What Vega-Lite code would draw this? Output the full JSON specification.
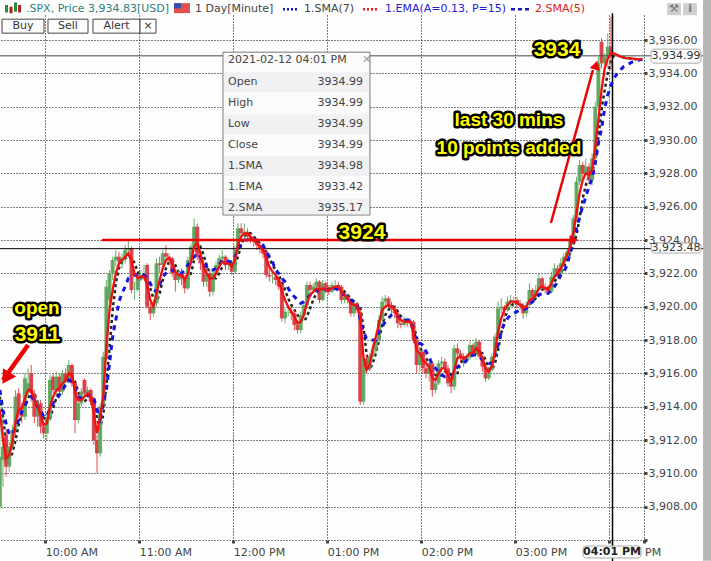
{
"$schema":"https://vega.github.io/schema/vega-lite/v6.json",
"width":644,"height":525,
"autosize":{"type":"none"},
"padding":{"left":0,"top":15,"right":67,"bottom":21},
"background":"#fefefe",
"config":{"view":{"stroke":null},"font":"DejaVu Sans","text":{"font":"DejaVu Sans"}},
"datasets":{
"candles":[
{"t":"2021-02-12T09:31","o":3908.0,"h":3915.0,"l":3907.8,"c":3911.0,"r":3913.8,"k":3914.6,"b":3915.0},
{"t":"2021-02-12T09:33","o":3910.8,"h":3913.4,"l":3909.2,"c":3911.6,"r":3912.0,"k":3913.4,"b":3913.8},
{"t":"2021-02-12T09:35","o":3912.3,"h":3912.6,"l":3909.8,"c":3910.4,"r":3910.9,"k":3911.8,"b":3913.0},
{"t":"2021-02-12T09:37","o":3910.4,"h":3911.9,"l":3910.1,"c":3911.6,"r":3911.1,"k":3910.9,"b":3912.3},
{"t":"2021-02-12T09:39","o":3911.6,"h":3912.9,"l":3911.4,"c":3912.6,"r":3911.9,"k":3911.2,"b":3912.4},
{"t":"2021-02-12T09:41","o":3912.6,"h":3915.0,"l":3912.3,"c":3914.6,"r":3913.1,"k":3912.0,"b":3912.7},
{"t":"2021-02-12T09:43","o":3914.8,"h":3915.1,"l":3913.3,"c":3913.6,"r":3913.8,"k":3912.9,"b":3913.2},
{"t":"2021-02-12T09:45","o":3913.6,"h":3914.2,"l":3913.0,"c":3913.4,"r":3913.9,"k":3913.5,"b":3913.7},
{"t":"2021-02-12T09:47","o":3913.4,"h":3916.0,"l":3913.2,"c":3915.7,"r":3914.5,"k":3914.0,"b":3914.1},
{"t":"2021-02-12T09:49","o":3915.0,"h":3916.3,"l":3914.6,"c":3915.4,"r":3915.0,"k":3914.5,"b":3914.4},
{"t":"2021-02-12T09:51","o":3916.0,"h":3916.5,"l":3914.3,"c":3914.8,"r":3915.0,"k":3914.9,"b":3914.6},
{"t":"2021-02-12T09:53","o":3914.8,"h":3915.0,"l":3913.0,"c":3913.4,"r":3914.4,"k":3914.8,"b":3914.4},
{"t":"2021-02-12T09:55","o":3913.4,"h":3914.4,"l":3912.8,"c":3914.2,"r":3914.0,"k":3914.3,"b":3914.0},
{"t":"2021-02-12T09:57","o":3914.2,"h":3914.4,"l":3912.4,"c":3912.8,"r":3913.5,"k":3913.9,"b":3913.7},
{"t":"2021-02-12T09:59","o":3912.8,"h":3913.1,"l":3912.1,"c":3912.4,"r":3912.9,"k":3913.4,"b":3913.4},
{"t":"2021-02-12T10:01","o":3912.4,"h":3913.6,"l":3912.0,"c":3913.3,"r":3913.0,"k":3913.0,"b":3913.4},
{"t":"2021-02-12T10:03","o":3913.3,"h":3915.9,"l":3913.1,"c":3915.6,"r":3914.0,"k":3913.3,"b":3913.9},
{"t":"2021-02-12T10:05","o":3915.8,"h":3916.0,"l":3914.8,"c":3915.0,"r":3914.6,"k":3913.9,"b":3914.2},
{"t":"2021-02-12T10:07","o":3915.0,"h":3916.1,"l":3914.6,"c":3915.8,"r":3915.0,"k":3914.5,"b":3914.4},
{"t":"2021-02-12T10:09","o":3915.8,"h":3916.0,"l":3914.6,"c":3914.9,"r":3915.1,"k":3915.0,"b":3914.7},
{"t":"2021-02-12T10:11","o":3914.9,"h":3916.2,"l":3914.7,"c":3916.0,"r":3915.4,"k":3915.2,"b":3915.0},
{"t":"2021-02-12T10:13","o":3916.0,"h":3916.3,"l":3915.4,"c":3915.6,"r":3915.6,"k":3915.4,"b":3915.3},
{"t":"2021-02-12T10:15","o":3915.6,"h":3916.8,"l":3915.4,"c":3916.5,"r":3916.0,"k":3915.6,"b":3915.6},
{"t":"2021-02-12T10:17","o":3916.5,"h":3916.6,"l":3915.2,"c":3915.4,"r":3915.9,"k":3915.8,"b":3915.5},
{"t":"2021-02-12T10:19","o":3915.4,"h":3915.6,"l":3912.4,"c":3913.2,"r":3914.9,"k":3915.5,"b":3915.1},
{"t":"2021-02-12T10:21","o":3913.2,"h":3914.4,"l":3913.0,"c":3914.2,"r":3914.4,"k":3914.9,"b":3914.6},
{"t":"2021-02-12T10:23","o":3914.2,"h":3915.1,"l":3914.0,"c":3914.9,"r":3914.4,"k":3914.4,"b":3914.5},
{"t":"2021-02-12T10:25","o":3915.6,"h":3915.7,"l":3914.6,"c":3914.8,"r":3914.6,"k":3914.3,"b":3914.5},
{"t":"2021-02-12T10:27","o":3914.8,"h":3915.2,"l":3914.6,"c":3915.0,"r":3914.8,"k":3914.5,"b":3914.7},
{"t":"2021-02-12T10:29","o":3915.0,"h":3915.1,"l":3914.1,"c":3914.3,"r":3914.6,"k":3914.7,"b":3914.7},
{"t":"2021-02-12T10:31","o":3914.5,"h":3914.6,"l":3911.7,"c":3912.0,"r":3913.6,"k":3914.3,"b":3914.5},
{"t":"2021-02-12T10:33","o":3912.0,"h":3912.3,"l":3910.0,"c":3911.2,"r":3912.4,"k":3913.3,"b":3913.8},
{"t":"2021-02-12T10:35","o":3911.2,"h":3914.2,"l":3911.0,"c":3914.0,"r":3913.4,"k":3912.7,"b":3913.3},
{"t":"2021-02-12T10:37","o":3914.0,"h":3917.3,"l":3913.8,"c":3917.0,"r":3914.6,"k":3913.5,"b":3914.2},
{"t":"2021-02-12T10:39","o":3917.0,"h":3921.6,"l":3916.8,"c":3921.2,"r":3917.6,"k":3915.3,"b":3915.0},
{"t":"2021-02-12T10:41","o":3920.4,"h":3922.2,"l":3920.2,"c":3922.0,"r":3919.8,"k":3917.6,"b":3916.6},
{"t":"2021-02-12T10:43","o":3922.0,"h":3923.0,"l":3921.6,"c":3922.8,"r":3921.0,"k":3919.8,"b":3918.2},
{"t":"2021-02-12T10:45","o":3922.8,"h":3923.4,"l":3922.4,"c":3923.0,"r":3922.0,"k":3921.4,"b":3919.2},
{"t":"2021-02-12T10:47","o":3923.0,"h":3923.3,"l":3922.3,"c":3922.7,"r":3922.6,"k":3922.3,"b":3920.3},
{"t":"2021-02-12T10:49","o":3922.7,"h":3923.2,"l":3922.3,"c":3922.9,"r":3922.8,"k":3922.7,"b":3920.8},
{"t":"2021-02-12T10:51","o":3922.9,"h":3923.7,"l":3922.6,"c":3923.4,"r":3923.0,"k":3922.9,"b":3921.2},
{"t":"2021-02-12T10:53","o":3923.4,"h":3924.0,"l":3923.0,"c":3923.5,"r":3923.2,"k":3923.0,"b":3921.7},
{"t":"2021-02-12T10:55","o":3923.5,"h":3923.6,"l":3920.8,"c":3921.0,"r":3922.7,"k":3923.0,"b":3921.8},
{"t":"2021-02-12T10:57","o":3921.0,"h":3921.5,"l":3920.4,"c":3921.0,"r":3922.0,"k":3922.6,"b":3921.9},
{"t":"2021-02-12T10:59","o":3921.0,"h":3921.9,"l":3920.9,"c":3921.7,"r":3921.7,"k":3922.1,"b":3921.9},
{"t":"2021-02-12T11:01","o":3921.7,"h":3922.2,"l":3921.5,"c":3921.9,"r":3921.8,"k":3921.7,"b":3922.0},
{"t":"2021-02-12T11:03","o":3921.9,"h":3922.5,"l":3921.6,"c":3922.0,"r":3921.8,"k":3921.7,"b":3921.9},
{"t":"2021-02-12T11:05","o":3922.5,"h":3922.6,"l":3919.9,"c":3920.0,"r":3921.3,"k":3921.7,"b":3921.7},
{"t":"2021-02-12T11:07","o":3920.0,"h":3920.2,"l":3919.2,"c":3919.6,"r":3920.4,"k":3921.1,"b":3921.4},
{"t":"2021-02-12T11:09","o":3919.6,"h":3920.4,"l":3919.4,"c":3920.2,"r":3920.0,"k":3920.5,"b":3921.0},
{"t":"2021-02-12T11:11","o":3920.2,"h":3922.9,"l":3920.0,"c":3922.6,"r":3920.8,"k":3920.3,"b":3920.9},
{"t":"2021-02-12T11:13","o":3922.6,"h":3923.0,"l":3922.0,"c":3922.5,"r":3921.6,"k":3920.8,"b":3921.3},
{"t":"2021-02-12T11:15","o":3922.5,"h":3923.4,"l":3922.2,"c":3923.2,"r":3922.3,"k":3921.6,"b":3921.8},
{"t":"2021-02-12T11:17","o":3923.2,"h":3923.7,"l":3922.7,"c":3923.0,"r":3922.8,"k":3922.3,"b":3922.0},
{"t":"2021-02-12T11:19","o":3923.0,"h":3923.2,"l":3922.5,"c":3922.9,"r":3922.9,"k":3922.7,"b":3922.2},
{"t":"2021-02-12T11:21","o":3922.9,"h":3923.0,"l":3921.8,"c":3922.0,"r":3922.6,"k":3922.8,"b":3922.2},
{"t":"2021-02-12T11:23","o":3922.0,"h":3922.2,"l":3920.9,"c":3921.6,"r":3922.1,"k":3922.5,"b":3922.1},
{"t":"2021-02-12T11:25","o":3921.6,"h":3922.2,"l":3921.4,"c":3922.0,"r":3921.9,"k":3922.1,"b":3922.0},
{"t":"2021-02-12T11:27","o":3922.0,"h":3922.3,"l":3921.3,"c":3921.7,"r":3921.9,"k":3921.9,"b":3922.0},
{"t":"2021-02-12T11:29","o":3921.7,"h":3921.9,"l":3920.8,"c":3921.1,"r":3921.6,"k":3921.8,"b":3922.2},
{"t":"2021-02-12T11:31","o":3921.1,"h":3923.0,"l":3921.0,"c":3922.8,"r":3922.0,"k":3921.7,"b":3922.5},
{"t":"2021-02-12T11:33","o":3922.8,"h":3923.8,"l":3922.6,"c":3923.6,"r":3922.7,"k":3922.0,"b":3922.8},
{"t":"2021-02-12T11:35","o":3923.6,"h":3925.3,"l":3923.4,"c":3924.8,"r":3923.6,"k":3922.8,"b":3923.0},
{"t":"2021-02-12T11:37","o":3924.8,"h":3925.0,"l":3922.8,"c":3923.0,"r":3923.8,"k":3923.5,"b":3923.2},
{"t":"2021-02-12T11:39","o":3923.0,"h":3923.3,"l":3922.2,"c":3922.6,"r":3923.2,"k":3923.6,"b":3923.0},
{"t":"2021-02-12T11:41","o":3922.6,"h":3922.8,"l":3921.2,"c":3921.5,"r":3922.4,"k":3923.1,"b":3922.7},
{"t":"2021-02-12T11:43","o":3921.5,"h":3922.3,"l":3921.2,"c":3922.0,"r":3922.0,"k":3922.5,"b":3922.4},
{"t":"2021-02-12T11:45","o":3922.0,"h":3922.2,"l":3920.6,"c":3920.9,"r":3921.7,"k":3922.0,"b":3922.2},
{"t":"2021-02-12T11:47","o":3920.9,"h":3922.3,"l":3920.7,"c":3922.0,"r":3921.7,"k":3921.7,"b":3922.2},
{"t":"2021-02-12T11:49","o":3922.0,"h":3922.7,"l":3921.8,"c":3922.5,"r":3922.0,"k":3921.7,"b":3922.3},
{"t":"2021-02-12T11:51","o":3922.5,"h":3923.1,"l":3922.3,"c":3922.9,"r":3922.4,"k":3922.0,"b":3922.5},
{"t":"2021-02-12T11:53","o":3922.9,"h":3923.4,"l":3922.6,"c":3923.0,"r":3922.7,"k":3922.4,"b":3922.8},
{"t":"2021-02-12T11:55","o":3923.0,"h":3923.1,"l":3922.2,"c":3922.5,"r":3922.6,"k":3922.6,"b":3922.8},
{"t":"2021-02-12T11:57","o":3922.5,"h":3922.9,"l":3922.2,"c":3922.6,"r":3922.6,"k":3922.6,"b":3922.7},
{"t":"2021-02-12T11:59","o":3922.6,"h":3922.8,"l":3921.9,"c":3922.1,"r":3922.4,"k":3922.6,"b":3922.7},
{"t":"2021-02-12T12:01","o":3922.1,"h":3923.7,"l":3922.0,"c":3923.4,"r":3922.8,"k":3922.5,"b":3923.0},
{"t":"2021-02-12T12:03","o":3923.4,"h":3925.0,"l":3923.2,"c":3924.7,"r":3923.7,"k":3923.0,"b":3923.4},
{"t":"2021-02-12T12:05","o":3924.7,"h":3925.0,"l":3924.1,"c":3924.4,"r":3924.2,"k":3923.7,"b":3923.8},
{"t":"2021-02-12T12:07","o":3924.4,"h":3925.0,"l":3924.1,"c":3924.5,"r":3924.4,"k":3924.2,"b":3924.0},
{"t":"2021-02-12T12:09","o":3924.5,"h":3924.7,"l":3924.0,"c":3924.2,"r":3924.4,"k":3924.4,"b":3924.0},
{"t":"2021-02-12T12:11","o":3924.2,"h":3924.4,"l":3923.8,"c":3924.0,"r":3924.2,"k":3924.4,"b":3924.0},
{"t":"2021-02-12T12:13","o":3924.0,"h":3924.2,"l":3923.6,"c":3923.9,"r":3924.0,"k":3924.2,"b":3924.0},
{"t":"2021-02-12T12:15","o":3923.9,"h":3924.0,"l":3923.4,"c":3923.7,"r":3923.8,"k":3924.0,"b":3924.0},
{"t":"2021-02-12T12:17","o":3923.7,"h":3923.9,"l":3923.2,"c":3923.5,"r":3923.6,"k":3923.8,"b":3923.8},
{"t":"2021-02-12T12:19","o":3923.5,"h":3923.7,"l":3922.9,"c":3923.2,"r":3923.4,"k":3923.6,"b":3923.7},
{"t":"2021-02-12T12:21","o":3923.2,"h":3923.4,"l":3921.7,"c":3921.9,"r":3922.9,"k":3923.3,"b":3923.3},
{"t":"2021-02-12T12:23","o":3921.9,"h":3922.4,"l":3921.5,"c":3921.8,"r":3922.4,"k":3922.9,"b":3923.0},
{"t":"2021-02-12T12:25","o":3921.8,"h":3922.2,"l":3921.4,"c":3921.8,"r":3922.1,"k":3922.5,"b":3922.7},
{"t":"2021-02-12T12:27","o":3921.8,"h":3922.0,"l":3921.3,"c":3921.6,"r":3921.9,"k":3922.2,"b":3922.2},
{"t":"2021-02-12T12:29","o":3921.6,"h":3921.8,"l":3921.0,"c":3921.2,"r":3921.6,"k":3921.9,"b":3922.0},
{"t":"2021-02-12T12:31","o":3921.3,"h":3921.5,"l":3919.1,"c":3919.3,"r":3920.9,"k":3921.5,"b":3921.7},
{"t":"2021-02-12T12:33","o":3919.3,"h":3919.9,"l":3919.0,"c":3919.7,"r":3920.4,"k":3921.0,"b":3921.5},
{"t":"2021-02-12T12:35","o":3919.7,"h":3920.0,"l":3919.4,"c":3919.7,"r":3920.0,"k":3920.5,"b":3921.1},
{"t":"2021-02-12T12:37","o":3919.7,"h":3920.0,"l":3919.2,"c":3919.6,"r":3919.7,"k":3920.1,"b":3920.8},
{"t":"2021-02-12T12:39","o":3919.6,"h":3919.8,"l":3918.6,"c":3918.9,"r":3919.4,"k":3919.8,"b":3920.6},
{"t":"2021-02-12T12:41","o":3918.9,"h":3919.2,"l":3918.4,"c":3918.6,"r":3919.0,"k":3919.5,"b":3920.4},
{"t":"2021-02-12T12:43","o":3918.6,"h":3919.7,"l":3918.4,"c":3919.5,"r":3919.1,"k":3919.2,"b":3920.2},
{"t":"2021-02-12T12:45","o":3919.5,"h":3920.3,"l":3919.3,"c":3920.1,"r":3919.5,"k":3919.1,"b":3920.3},
{"t":"2021-02-12T12:47","o":3920.1,"h":3921.5,"l":3920.0,"c":3921.3,"r":3920.2,"k":3919.4,"b":3920.5},
{"t":"2021-02-12T12:49","o":3921.3,"h":3921.5,"l":3920.7,"c":3921.0,"r":3920.7,"k":3919.9,"b":3920.7},
{"t":"2021-02-12T12:51","o":3921.0,"h":3921.4,"l":3920.8,"c":3921.2,"r":3920.9,"k":3920.4,"b":3920.9},
{"t":"2021-02-12T12:53","o":3921.2,"h":3921.7,"l":3921.0,"c":3921.5,"r":3921.1,"k":3920.8,"b":3921.0},
{"t":"2021-02-12T12:55","o":3921.5,"h":3921.6,"l":3920.2,"c":3920.4,"r":3921.0,"k":3921.0,"b":3921.0},
{"t":"2021-02-12T12:57","o":3920.4,"h":3921.6,"l":3920.3,"c":3921.4,"r":3921.1,"k":3921.0,"b":3921.0},
{"t":"2021-02-12T12:59","o":3921.4,"h":3921.5,"l":3920.8,"c":3921.0,"r":3921.0,"k":3921.0,"b":3921.0},
{"t":"2021-02-12T13:01","o":3921.0,"h":3921.3,"l":3920.7,"c":3920.9,"r":3921.0,"k":3921.1,"b":3921.0},
{"t":"2021-02-12T13:03","o":3920.9,"h":3921.5,"l":3920.8,"c":3921.3,"r":3921.1,"k":3921.0,"b":3921.1},
{"t":"2021-02-12T13:05","o":3921.3,"h":3921.6,"l":3921.1,"c":3921.3,"r":3921.2,"k":3921.1,"b":3921.1},
{"t":"2021-02-12T13:07","o":3921.3,"h":3921.5,"l":3921.0,"c":3921.2,"r":3921.2,"k":3921.1,"b":3921.0},
{"t":"2021-02-12T13:09","o":3921.2,"h":3921.3,"l":3920.2,"c":3920.4,"r":3920.9,"k":3921.1,"b":3920.8},
{"t":"2021-02-12T13:11","o":3920.4,"h":3920.8,"l":3920.2,"c":3920.6,"r":3920.7,"k":3920.9,"b":3920.7},
{"t":"2021-02-12T13:13","o":3920.6,"h":3920.8,"l":3920.2,"c":3920.4,"r":3920.5,"k":3920.7,"b":3920.6},
{"t":"2021-02-12T13:15","o":3920.4,"h":3920.5,"l":3919.4,"c":3919.6,"r":3920.2,"k":3920.5,"b":3920.4},
{"t":"2021-02-12T13:17","o":3919.6,"h":3920.4,"l":3919.4,"c":3920.2,"r":3920.1,"k":3920.3,"b":3920.3},
{"t":"2021-02-12T13:19","o":3920.2,"h":3920.3,"l":3919.6,"c":3919.8,"r":3920.0,"k":3920.1,"b":3920.2},
{"t":"2021-02-12T13:21","o":3919.7,"h":3919.9,"l":3914.1,"c":3914.3,"r":3919.4,"k":3920.0,"b":3919.2},
{"t":"2021-02-12T13:23","o":3914.3,"h":3917.2,"l":3914.1,"c":3916.9,"r":3917.0,"k":3918.8,"b":3918.5},
{"t":"2021-02-12T13:25","o":3916.9,"h":3917.1,"l":3916.0,"c":3916.3,"r":3916.2,"k":3917.2,"b":3918.1},
{"t":"2021-02-12T13:27","o":3916.3,"h":3917.2,"l":3916.1,"c":3917.0,"r":3916.5,"k":3916.2,"b":3918.0},
{"t":"2021-02-12T13:29","o":3917.0,"h":3917.6,"l":3916.8,"c":3917.4,"r":3917.5,"k":3916.6,"b":3918.0},
{"t":"2021-02-12T13:31","o":3917.4,"h":3918.3,"l":3917.2,"c":3918.0,"r":3918.2,"k":3917.2,"b":3918.0},
{"t":"2021-02-12T13:33","o":3918.0,"h":3919.5,"l":3917.8,"c":3919.2,"r":3919.0,"k":3918.0,"b":3918.5},
{"t":"2021-02-12T13:35","o":3919.2,"h":3920.6,"l":3919.0,"c":3920.3,"r":3919.8,"k":3918.9,"b":3918.8},
{"t":"2021-02-12T13:37","o":3920.3,"h":3920.7,"l":3919.9,"c":3920.5,"r":3920.0,"k":3919.5,"b":3919.1},
{"t":"2021-02-12T13:39","o":3920.5,"h":3920.6,"l":3919.9,"c":3920.1,"r":3920.1,"k":3919.8,"b":3919.3},
{"t":"2021-02-12T13:41","o":3920.1,"h":3920.3,"l":3919.6,"c":3919.9,"r":3920.0,"k":3920.0,"b":3919.5},
{"t":"2021-02-12T13:43","o":3919.9,"h":3920.0,"l":3919.3,"c":3919.6,"r":3919.8,"k":3920.0,"b":3919.6},
{"t":"2021-02-12T13:45","o":3919.6,"h":3919.7,"l":3918.7,"c":3919.0,"r":3919.4,"k":3919.7,"b":3919.4},
{"t":"2021-02-12T13:47","o":3919.0,"h":3919.3,"l":3918.7,"c":3918.9,"r":3919.2,"k":3919.4,"b":3919.3},
{"t":"2021-02-12T13:49","o":3918.9,"h":3919.4,"l":3918.8,"c":3919.2,"r":3919.1,"k":3919.2,"b":3919.2},
{"t":"2021-02-12T13:51","o":3919.2,"h":3919.3,"l":3918.8,"c":3919.0,"r":3919.1,"k":3919.1,"b":3919.2},
{"t":"2021-02-12T13:53","o":3919.0,"h":3919.3,"l":3918.8,"c":3919.1,"r":3919.1,"k":3919.1,"b":3919.2},
{"t":"2021-02-12T13:55","o":3919.1,"h":3919.2,"l":3917.8,"c":3918.0,"r":3918.4,"k":3918.9,"b":3918.5},
{"t":"2021-02-12T13:57","o":3918.0,"h":3918.1,"l":3916.0,"c":3916.5,"r":3917.4,"k":3918.2,"b":3918.0},
{"t":"2021-02-12T13:59","o":3916.5,"h":3917.6,"l":3916.1,"c":3917.3,"r":3917.2,"k":3917.6,"b":3917.8},
{"t":"2021-02-12T14:01","o":3917.3,"h":3917.4,"l":3916.0,"c":3916.3,"r":3916.8,"k":3917.2,"b":3917.7},
{"t":"2021-02-12T14:03","o":3916.3,"h":3916.9,"l":3915.7,"c":3916.0,"r":3916.6,"k":3916.9,"b":3917.3},
{"t":"2021-02-12T14:05","o":3916.0,"h":3916.8,"l":3915.5,"c":3916.6,"r":3916.4,"k":3916.6,"b":3917.0},
{"t":"2021-02-12T14:07","o":3916.6,"h":3916.7,"l":3914.6,"c":3915.0,"r":3915.7,"k":3916.2,"b":3916.5},
{"t":"2021-02-12T14:09","o":3915.0,"h":3915.7,"l":3914.8,"c":3915.4,"r":3915.6,"k":3915.9,"b":3916.3},
{"t":"2021-02-12T14:11","o":3915.4,"h":3916.8,"l":3915.3,"c":3916.6,"r":3916.0,"k":3915.8,"b":3916.1},
{"t":"2021-02-12T14:13","o":3916.6,"h":3917.0,"l":3916.0,"c":3916.7,"r":3916.3,"k":3915.9,"b":3915.9},
{"t":"2021-02-12T14:15","o":3916.7,"h":3916.9,"l":3916.0,"c":3916.3,"r":3916.3,"k":3916.1,"b":3915.8},
{"t":"2021-02-12T14:17","o":3916.3,"h":3916.5,"l":3915.2,"c":3915.4,"r":3915.9,"k":3916.1,"b":3915.8},
{"t":"2021-02-12T14:19","o":3915.4,"h":3915.7,"l":3914.8,"c":3915.2,"r":3915.5,"k":3915.9,"b":3915.8},
{"t":"2021-02-12T14:21","o":3915.2,"h":3917.7,"l":3915.0,"c":3917.5,"r":3916.2,"k":3915.7,"b":3916.1},
{"t":"2021-02-12T14:23","o":3917.5,"h":3917.8,"l":3916.9,"c":3917.2,"r":3916.9,"k":3916.0,"b":3916.4},
{"t":"2021-02-12T14:25","o":3917.2,"h":3917.4,"l":3916.7,"c":3917.0,"r":3917.0,"k":3916.6,"b":3916.5},
{"t":"2021-02-12T14:27","o":3917.0,"h":3917.2,"l":3916.4,"c":3916.8,"r":3916.9,"k":3916.9,"b":3916.6},
{"t":"2021-02-12T14:29","o":3916.8,"h":3917.2,"l":3916.6,"c":3917.0,"r":3917.0,"k":3917.0,"b":3916.8},
{"t":"2021-02-12T14:31","o":3917.0,"h":3917.9,"l":3916.8,"c":3917.7,"r":3917.2,"k":3917.0,"b":3917.0},
{"t":"2021-02-12T14:33","o":3917.7,"h":3917.8,"l":3917.0,"c":3917.2,"r":3917.2,"k":3917.1,"b":3917.1},
{"t":"2021-02-12T14:35","o":3917.2,"h":3918.1,"l":3917.1,"c":3917.9,"r":3917.5,"k":3917.2,"b":3917.1},
{"t":"2021-02-12T14:37","o":3917.9,"h":3918.0,"l":3916.9,"c":3917.0,"r":3917.3,"k":3917.3,"b":3917.0},
{"t":"2021-02-12T14:39","o":3917.0,"h":3917.1,"l":3916.1,"c":3916.4,"r":3916.9,"k":3917.2,"b":3916.8},
{"t":"2021-02-12T14:41","o":3916.4,"h":3916.6,"l":3915.5,"c":3915.7,"r":3916.3,"k":3916.8,"b":3916.7},
{"t":"2021-02-12T14:43","o":3915.7,"h":3916.4,"l":3915.6,"c":3916.2,"r":3916.1,"k":3916.3,"b":3916.6},
{"t":"2021-02-12T14:45","o":3916.2,"h":3917.2,"l":3916.1,"c":3917.0,"r":3916.4,"k":3916.2,"b":3916.6},
{"t":"2021-02-12T14:47","o":3917.0,"h":3918.4,"l":3916.9,"c":3918.2,"r":3917.3,"k":3916.6,"b":3917.1},
{"t":"2021-02-12T14:49","o":3918.2,"h":3920.3,"l":3918.0,"c":3919.9,"r":3918.5,"k":3917.4,"b":3917.7},
{"t":"2021-02-12T14:51","o":3919.9,"h":3920.5,"l":3919.6,"c":3920.0,"r":3919.3,"k":3918.4,"b":3918.5},
{"t":"2021-02-12T14:53","o":3920.0,"h":3920.1,"l":3919.4,"c":3919.8,"r":3919.8,"k":3919.2,"b":3919.0},
{"t":"2021-02-12T14:55","o":3919.8,"h":3920.6,"l":3919.7,"c":3920.3,"r":3920.1,"k":3919.8,"b":3919.3},
{"t":"2021-02-12T14:57","o":3920.3,"h":3920.7,"l":3920.0,"c":3920.4,"r":3920.3,"k":3920.0,"b":3919.5},
{"t":"2021-02-12T14:59","o":3920.4,"h":3920.6,"l":3920.0,"c":3920.4,"r":3920.3,"k":3920.2,"b":3919.6},
{"t":"2021-02-12T15:01","o":3920.4,"h":3920.6,"l":3919.9,"c":3920.2,"r":3920.2,"k":3920.3,"b":3919.7},
{"t":"2021-02-12T15:03","o":3920.2,"h":3920.4,"l":3919.8,"c":3920.1,"r":3920.1,"k":3920.2,"b":3919.8},
{"t":"2021-02-12T15:05","o":3920.1,"h":3920.2,"l":3919.3,"c":3919.6,"r":3919.9,"k":3920.0,"b":3919.8},
{"t":"2021-02-12T15:07","o":3919.6,"h":3920.3,"l":3919.4,"c":3920.1,"r":3920.0,"k":3919.9,"b":3919.9},
{"t":"2021-02-12T15:09","o":3920.1,"h":3921.4,"l":3920.0,"c":3921.0,"r":3920.4,"k":3920.1,"b":3920.2},
{"t":"2021-02-12T15:11","o":3921.0,"h":3921.1,"l":3920.4,"c":3920.6,"r":3920.5,"k":3920.3,"b":3920.3},
{"t":"2021-02-12T15:13","o":3920.6,"h":3921.3,"l":3920.5,"c":3921.0,"r":3920.7,"k":3920.5,"b":3920.5},
{"t":"2021-02-12T15:15","o":3921.0,"h":3922.0,"l":3920.9,"c":3921.7,"r":3921.1,"k":3920.7,"b":3920.7},
{"t":"2021-02-12T15:17","o":3921.7,"h":3921.8,"l":3921.0,"c":3921.2,"r":3921.2,"k":3921.0,"b":3920.8},
{"t":"2021-02-12T15:19","o":3921.2,"h":3921.4,"l":3920.8,"c":3921.0,"r":3921.1,"k":3921.1,"b":3920.8},
{"t":"2021-02-12T15:21","o":3921.0,"h":3921.3,"l":3920.7,"c":3920.9,"r":3921.0,"k":3921.1,"b":3920.8},
{"t":"2021-02-12T15:23","o":3920.9,"h":3922.1,"l":3920.8,"c":3921.8,"r":3921.4,"k":3921.1,"b":3921.0},
{"t":"2021-02-12T15:25","o":3921.8,"h":3922.6,"l":3921.6,"c":3922.3,"r":3921.8,"k":3921.5,"b":3921.2},
{"t":"2021-02-12T15:27","o":3922.3,"h":3922.5,"l":3921.7,"c":3922.0,"r":3922.0,"k":3921.8,"b":3921.5},
{"t":"2021-02-12T15:29","o":3922.0,"h":3922.9,"l":3921.8,"c":3922.6,"r":3922.3,"k":3922.0,"b":3921.9},
{"t":"2021-02-12T15:31","o":3922.6,"h":3923.2,"l":3922.4,"c":3923.0,"r":3922.7,"k":3922.4,"b":3922.1},
{"t":"2021-02-12T15:33","o":3923.0,"h":3923.5,"l":3922.8,"c":3923.3,"r":3923.1,"k":3922.8,"b":3922.5},
{"t":"2021-02-12T15:35","o":3923.3,"h":3924.2,"l":3923.1,"c":3924.0,"r":3923.6,"k":3923.2,"b":3923.2},
{"t":"2021-02-12T15:37","o":3924.0,"h":3925.5,"l":3923.8,"c":3925.3,"r":3924.4,"k":3923.7,"b":3923.9},
{"t":"2021-02-12T15:39","o":3925.3,"h":3927.8,"l":3925.1,"c":3927.5,"r":3925.6,"k":3924.3,"b":3924.7},
{"t":"2021-02-12T15:41","o":3927.5,"h":3928.8,"l":3927.3,"c":3928.5,"r":3926.8,"k":3925.3,"b":3925.4},
{"t":"2021-02-12T15:43","o":3928.5,"h":3928.7,"l":3927.7,"c":3928.0,"r":3927.6,"k":3926.5,"b":3926.0},
{"t":"2021-02-12T15:45","o":3928.0,"h":3928.9,"l":3927.9,"c":3928.4,"r":3928.0,"k":3927.3,"b":3926.6},
{"t":"2021-02-12T15:47","o":3928.4,"h":3928.6,"l":3927.4,"c":3927.6,"r":3927.9,"k":3927.8,"b":3927.2},
{"t":"2021-02-12T15:49","o":3927.6,"h":3929.2,"l":3927.3,"c":3928.9,"r":3928.2,"k":3928.0,"b":3927.7},
{"t":"2021-02-12T15:51","o":3928.9,"h":3932.3,"l":3928.7,"c":3932.0,"r":3929.6,"k":3928.8,"b":3928.6},
{"t":"2021-02-12T15:53","o":3932.0,"h":3935.0,"l":3931.8,"c":3934.6,"r":3931.2,"k":3930.2,"b":3929.8},
{"t":"2021-02-12T15:55","o":3935.9,"h":3936.1,"l":3934.3,"c":3934.6,"r":3933.0,"k":3931.8,"b":3930.7},
{"t":"2021-02-12T15:57","o":3934.6,"h":3935.2,"l":3933.8,"c":3935.0,"r":3934.3,"k":3933.0,"b":3931.9},
{"t":"2021-02-12T15:59","o":3935.0,"h":3936.4,"l":3934.3,"c":3935.6,"r":3934.9,"k":3934.0,"b":3932.7},
{"t":"2021-02-12T16:01","o":3935.6,"h":3937.4,"l":3934.2,"c":3935.0,"r":3935.2,"k":3934.7,"b":3933.3},
{"t":"2021-02-12T16:03","r":3935.2,"k":3935.1,"b":3933.7},
{"t":"2021-02-12T16:05","r":3935.1,"k":3935.1,"b":3934.0},
{"t":"2021-02-12T16:07","r":3935.0,"k":3935.0,"b":3934.2},
{"t":"2021-02-12T16:09","r":3934.95,"k":3934.95,"b":3934.4},
{"t":"2021-02-12T16:11","r":3934.9,"k":3934.9,"b":3934.5},
{"t":"2021-02-12T16:13","r":3934.9,"k":3934.9,"b":3934.6},
{"t":"2021-02-12T16:15","r":3934.88,"k":3934.88,"b":3934.7},
{"t":"2021-02-12T16:17","r":3934.85,"k":3934.85,"b":3934.75},
{"t":"2021-02-12T16:19","r":3934.85,"k":3934.85,"b":3934.8},
{"t":"2021-02-12T16:21","r":3934.85,"k":3934.85,"b":3934.85}
],
"boxes":[
{"kind":"strip","t":"2021-02-12T16:59:48","t2":"2021-02-12T17:05:00","p":3938.4,"p2":3904.75},
{"kind":"panel","t":"2021-02-12T11:53:24","t2":"2021-02-12T13:27:12","p":3935.27,"p2":3925.5},
{"kind":"band","t":"2021-02-12T11:54:00","t2":"2021-02-12T13:26:40","p":3934.07,"p2":3932.87},
{"kind":"band","t":"2021-02-12T11:54:00","t2":"2021-02-12T13:26:40","p":3931.55,"p2":3930.35},
{"kind":"band","t":"2021-02-12T11:54:00","t2":"2021-02-12T13:26:40","p":3929.03,"p2":3927.84},
{"kind":"band","t":"2021-02-12T11:54:00","t2":"2021-02-12T13:26:40","p":3926.52,"p2":3925.55},
{"kind":"button","t":"2021-02-12T09:32:23","t2":"2021-02-12T09:59:11","p":3937.25,"p2":3936.41},
{"kind":"button","t":"2021-02-12T10:01:44","t2":"2021-02-12T10:27:16","p":3937.25,"p2":3936.41},
{"kind":"button","t":"2021-02-12T10:30:27","t2":"2021-02-12T11:00:27","p":3937.25,"p2":3936.41},
{"kind":"button","t":"2021-02-12T11:00:27","t2":"2021-02-12T11:10:40","p":3937.25,"p2":3936.41},
{"kind":"tag","t":"2021-02-12T16:26:36","t2":"2021-02-12T16:58:30","p":3935.45,"p2":3934.61},
{"kind":"tag","t":"2021-02-12T16:26:36","t2":"2021-02-12T16:58:30","p":3923.82,"p2":3923.22},
{"kind":"tag","t":"2021-02-12T15:43:12","t2":"2021-02-12T16:20:12","p":3905.64,"p2":3904.92},
{"kind":"tool","t":"2021-02-12T16:36:48","t2":"2021-02-12T16:45:42","p":3938.21,"p2":3937.49},
{"kind":"tool","t":"2021-02-12T16:47:00","t2":"2021-02-12T16:55:54","p":3938.21,"p2":3937.49},
{"kind":"flagred","t":"2021-02-12T11:22:09","t2":"2021-02-12T11:32:22","p":3938.21,"p2":3937.61},
{"kind":"flagblue","t":"2021-02-12T11:22:09","t2":"2021-02-12T11:26:36","p":3938.21,"p2":3937.9},
{"kind":"icongreen","t":"2021-02-12T09:34:18","t2":"2021-02-12T09:36:12","p":3938.1,"p2":3937.65},
{"kind":"icongreen","t":"2021-02-12T09:40:00","t2":"2021-02-12T09:41:57","p":3938.25,"p2":3937.7},
{"kind":"iconred","t":"2021-02-12T09:37:10","t2":"2021-02-12T09:39:05","p":3938.0,"p2":3937.6},
{"kind":"iconred","t":"2021-02-12T09:42:40","t2":"2021-02-12T09:44:30","p":3938.1,"p2":3937.65}
],
"segments":[
{"kind":"cursor","t":"2021-02-12T16:02:00","t2":"2021-02-12T16:02:00","p":3937.6,"p2":3904.74}
],
"levels":[
{"kind":"close","t":"2021-02-12T09:31:06","t2":"2021-02-12T16:59:48","p":3935.05},
{"kind":"prev","t":"2021-02-12T09:31:06","t2":"2021-02-12T16:59:48","p":3923.48},
{"kind":"resist","t":"2021-02-12T10:36:12","t2":"2021-02-12T15:34:54","p":3924},
{"kind":"keyblue","t":"2021-02-12T12:31:42","t2":"2021-02-12T12:41:18","p":3937.85},
{"kind":"keyred","t":"2021-02-12T13:22:48","t2":"2021-02-12T13:32:18","p":3937.85},
{"kind":"keydash","t":"2021-02-12T14:57:12","t2":"2021-02-12T15:10:00","p":3937.85}
],
"arrows":[
{"kind":"up","t":"2021-02-12T15:22:42","p":3925.02},
{"kind":"up","t":"2021-02-12T15:49:30","p":3934.2},
{"kind":"open","t":"2021-02-12T09:49:00","p":3917.7},
{"kind":"open","t":"2021-02-12T09:33:00","p":3915.6}
],
"heads":[
{"kind":"up","t":"2021-02-12T15:51:30","p":3934.49},
{"kind":"right","t":"2021-02-12T15:37:24","p":3924},
{"kind":"open","t":"2021-02-12T09:34:54","p":3915.72}
],
"notes":[
{"kind":"word","t":"2021-02-12T09:54:42","p":3919.92,"label":"open"},
{"kind":"number","t":"2021-02-12T09:55:00","p":3918.3,"label":"3911"},
{"kind":"number","t":"2021-02-12T13:22:06","p":3924.42,"label":"3924"},
{"kind":"number","t":"2021-02-12T15:26:36","p":3935.39,"label":"3934"},
{"kind":"word","t":"2021-02-12T14:55:54","p":3931.19,"label":"last 30 mins"},
{"kind":"word","t":"2021-02-12T14:55:54","p":3929.51,"label":"10 points added"}
],
"texts":[
{"kind":"teal","t":"2021-02-12T09:47:42","p":3937.85,"label":".SPX, Price 3,934.83[USD]"},
{"kind":"dark","t":"2021-02-12T11:35:33","p":3937.85,"label":"1 Day[Minute]"},
{"kind":"dark","t":"2021-02-12T12:45:06","p":3937.85,"label":"1.SMA(7)"},
{"kind":"blue","t":"2021-02-12T13:36:48","p":3937.85,"label":"1.EMA(A=0.13, P=15)"},
{"kind":"red","t":"2021-02-12T15:12:30","p":3937.85,"label":"2.SMA(5)"},
{"kind":"dark","t":"2021-02-12T11:56:36","p":3934.79,"label":"2021-02-12 04:01 PM"},
{"kind":"dark","t":"2021-02-12T11:56:36","p":3933.47,"label":"Open"},
{"kind":"dark","t":"2021-02-12T11:56:36","p":3932.21,"label":"High"},
{"kind":"dark","t":"2021-02-12T11:56:36","p":3930.95,"label":"Low"},
{"kind":"dark","t":"2021-02-12T11:56:36","p":3929.7,"label":"Close"},
{"kind":"dark","t":"2021-02-12T11:56:36","p":3928.44,"label":"1.SMA"},
{"kind":"dark","t":"2021-02-12T11:56:36","p":3927.18,"label":"1.EMA"},
{"kind":"dark","t":"2021-02-12T11:56:36","p":3925.92,"label":"2.SMA"}
],
"righttexts":[
{"t":"2021-02-12T13:22:48","p":3933.47,"label":"3934.99"},
{"t":"2021-02-12T13:22:48","p":3932.21,"label":"3934.99"},
{"t":"2021-02-12T13:22:48","p":3930.95,"label":"3934.99"},
{"t":"2021-02-12T13:22:48","p":3929.7,"label":"3934.99"},
{"t":"2021-02-12T13:22:48","p":3928.44,"label":"3934.98"},
{"t":"2021-02-12T13:22:48","p":3927.18,"label":"3933.42"},
{"t":"2021-02-12T13:22:48","p":3925.92,"label":"3935.17"}
],
"centertexts":[
{"kind":"button","t":"2021-02-12T09:45:47","p":3936.83,"label":"Buy"},
{"kind":"button","t":"2021-02-12T10:14:30","p":3936.83,"label":"Sell"},
{"kind":"button","t":"2021-02-12T10:45:27","p":3936.83,"label":"Alert"},
{"kind":"button","t":"2021-02-12T11:05:33","p":3936.83,"label":"×"},
{"kind":"button","t":"2021-02-12T16:42:30","p":3935.03,"label":"3,934.99"},
{"kind":"button","t":"2021-02-12T16:42:30","p":3923.52,"label":"3,923.48"},
{"kind":"close","t":"2021-02-12T13:25:10","p":3934.79,"label":"✕"},
{"kind":"tool","t":"2021-02-12T16:41:12","p":3937.85,"label":"⚒"},
{"kind":"tool","t":"2021-02-12T16:51:30","p":3937.85,"label":"i"},
{"kind":"time","t":"2021-02-12T16:01:42","p":3905.28,"label":"04:01 PM"}
]
},
"encoding":{
"x":{"field":"t","type":"temporal","title":null,
"scale":{"domain":["2021-02-12T09:31:06","2021-02-12T16:22:06"],"padding":0},
"axis":{"values":[{"year":2021,"month":2,"date":12,"hours":10},{"year":2021,"month":2,"date":12,"hours":11},{"year":2021,"month":2,"date":12,"hours":12},{"year":2021,"month":2,"date":12,"hours":13},{"year":2021,"month":2,"date":12,"hours":14},{"year":2021,"month":2,"date":12,"hours":15},{"year":2021,"month":2,"date":12,"hours":16},{"year":2021,"month":2,"date":12,"hours":16,"minutes":22,"seconds":6}],
"labelExpr":"minutes(datum.value)==22?'':timeFormat(datum.value,'%I:%M %p')",
"grid":true,"gridDash":[1,2],"gridColor":"#000","domain":false,"tickColor":"#444","tickWidth":3,"tickSize":3,"labelAlign":"left","labelPadding":3,"labelFontSize":11,"labelColor":"#444","labelFont":"DejaVu Sans","labelOverlap":false,"labelBound":false,"labelFlush":false}},
"y":{"field":"p","type":"quantitative","title":null,
"scale":{"domain":[3906,3937.5],"nice":false,"zero":false},
"axis":{"orient":"right","values":[3906,3908,3910,3912,3914,3916,3918,3920,3922,3924,3926,3928,3930,3932,3934,3936],
"labelExpr":"datum.value==3906?'':format(datum.value,',.2f')",
"grid":true,"gridDash":[1,2],"gridColor":"#000","domain":false,"tickColor":"#444","tickWidth":3,"tickSize":3,"labelPadding":1,"labelFontSize":11,"labelColor":"#444","labelFont":"DejaVu Sans","labelOverlap":false}}
},
"layer":[
{"data":{"name":"candles"},"mark":{"type":"line","color":"#222","strokeWidth":2.5,"strokeDash":[3,3]},"encoding":{"y":{"field":"k","type":"quantitative"}}},
{"data":{"name":"candles"},"mark":{"type":"rule","strokeWidth":1,"opacity":0.9},"encoding":{"y":{"field":"l","type":"quantitative"},"y2":{"field":"h"},"color":{"condition":{"test":"datum.c>=datum.o","value":"#5aa35a"},"value":"#dd3c44"}}},
{"data":{"name":"candles"},"mark":{"type":"bar","width":4,"opacity":0.9},"encoding":{"y":{"field":"o","type":"quantitative"},"y2":{"field":"c"},"color":{"condition":{"test":"datum.c>=datum.o","value":"#5aa35a"},"value":"#d9363e"}}},
{"data":{"name":"boxes"},"transform":[{"filter":"datum.kind=='strip'"}],"mark":{"type":"rect","fill":"#b6b6b6"},"encoding":{"x2":{"field":"t2"},"y2":{"field":"p2"}}},
{"data":{"name":"levels"},"transform":[{"filter":"datum.kind=='close'"}],"mark":{"type":"rule","color":"#444","strokeWidth":1},"encoding":{"x2":{"field":"t2"}}},
{"data":{"name":"levels"},"transform":[{"filter":"datum.kind=='prev'"}],"mark":{"type":"rule","color":"#000","strokeWidth":1},"encoding":{"x2":{"field":"t2"}}},
{"data":{"name":"segments"},"mark":{"type":"rule","color":"#000","strokeWidth":1.5},"encoding":{"y2":{"field":"p2"}}},
{"data":{"name":"candles"},"mark":{"type":"line","color":"#1414e6","strokeWidth":3,"strokeDash":[5,5]},"encoding":{"y":{"field":"b","type":"quantitative"}}},
{"data":{"name":"candles"},"mark":{"type":"line","color":"#f01010","strokeWidth":2.3},"encoding":{"y":{"field":"r","type":"quantitative"}}},
{"data":{"name":"levels"},"transform":[{"filter":"datum.kind=='resist'"}],"mark":{"type":"rule","color":"#f00000","strokeWidth":2.5},"encoding":{"x2":{"field":"t2"}}},
{"data":{"name":"arrows"},"transform":[{"filter":"datum.kind=='up'"}],"mark":{"type":"line","color":"#f00000","strokeWidth":2.5}},
{"data":{"name":"arrows"},"transform":[{"filter":"datum.kind=='open'"}],"mark":{"type":"line","color":"#f00000","strokeWidth":4.5}},
{"data":{"name":"heads"},"transform":[{"filter":"datum.kind=='up'"}],"mark":{"type":"point","shape":"triangle-up","filled":true,"color":"#f00000","opacity":1,"angle":16,"size":110}},
{"data":{"name":"heads"},"transform":[{"filter":"datum.kind=='right'"}],"mark":{"type":"point","shape":"triangle-up","filled":true,"color":"#f00000","opacity":1,"angle":90,"size":100}},
{"data":{"name":"heads"},"transform":[{"filter":"datum.kind=='open'"}],"mark":{"type":"point","shape":"triangle-up","filled":true,"color":"#f00000","opacity":1,"angle":212,"size":240}},
{"data":{"name":"notes"},"transform":[{"filter":"datum.kind=='word'"}],"mark":{"type":"text","font":"Liberation Sans","fontWeight":"bold","fontSize":19,"fill":"#000","stroke":"#000","strokeWidth":5,"strokeJoin":"round"},"encoding":{"text":{"field":"label"}}},
{"data":{"name":"notes"},"transform":[{"filter":"datum.kind=='word'"}],"mark":{"type":"text","font":"Liberation Sans","fontWeight":"bold","fontSize":19,"fill":"#ffff00"},"encoding":{"text":{"field":"label"}}},
{"data":{"name":"notes"},"transform":[{"filter":"datum.kind=='number'"}],"mark":{"type":"text","font":"Liberation Sans","fontWeight":"bold","fontSize":21,"fill":"#000","stroke":"#000","strokeWidth":5,"strokeJoin":"round"},"encoding":{"text":{"field":"label"}}},
{"data":{"name":"notes"},"transform":[{"filter":"datum.kind=='number'"}],"mark":{"type":"text","font":"Liberation Sans","fontWeight":"bold","fontSize":21,"fill":"#ffff00"},"encoding":{"text":{"field":"label"}}},
{"data":{"name":"boxes"},"transform":[{"filter":"datum.kind=='panel'"}],"mark":{"type":"rect","fill":"#fbfbfb","stroke":"#777"},"encoding":{"x2":{"field":"t2"},"y2":{"field":"p2"}}},
{"data":{"name":"boxes"},"transform":[{"filter":"datum.kind=='band'"}],"mark":{"type":"rect","fill":"#f1f1f3"},"encoding":{"x2":{"field":"t2"},"y2":{"field":"p2"}}},
{"data":{"name":"boxes"},"transform":[{"filter":"datum.kind=='button'"}],"mark":{"type":"rect","fill":"#fdfdfd","stroke":"#444"},"encoding":{"x2":{"field":"t2"},"y2":{"field":"p2"}}},
{"data":{"name":"boxes"},"transform":[{"filter":"datum.kind=='tag'"}],"mark":{"type":"rect","fill":"#fefefe","stroke":"#aaa","cornerRadius":3},"encoding":{"x2":{"field":"t2"},"y2":{"field":"p2"}}},
{"data":{"name":"boxes"},"transform":[{"filter":"datum.kind=='tool'"}],"mark":{"type":"rect","fill":"#cfcfcf"},"encoding":{"x2":{"field":"t2"},"y2":{"field":"p2"}}},
{"data":{"name":"boxes"},"transform":[{"filter":"datum.kind=='flagred'"}],"mark":{"type":"rect","fill":"#e05050"},"encoding":{"x2":{"field":"t2"},"y2":{"field":"p2"}}},
{"data":{"name":"boxes"},"transform":[{"filter":"datum.kind=='flagblue'"}],"mark":{"type":"rect","fill":"#3050b0"},"encoding":{"x2":{"field":"t2"},"y2":{"field":"p2"}}},
{"data":{"name":"boxes"},"transform":[{"filter":"datum.kind=='icongreen'"}],"mark":{"type":"rect","fill":"#2f8a3a"},"encoding":{"x2":{"field":"t2"},"y2":{"field":"p2"}}},
{"data":{"name":"boxes"},"transform":[{"filter":"datum.kind=='iconred'"}],"mark":{"type":"rect","fill":"#a82020"},"encoding":{"x2":{"field":"t2"},"y2":{"field":"p2"}}},
{"data":{"name":"levels"},"transform":[{"filter":"datum.kind=='keyblue'"}],"mark":{"type":"rule","color":"#1414c8","strokeWidth":2.5,"strokeDash":[2,2]},"encoding":{"x2":{"field":"t2"}}},
{"data":{"name":"levels"},"transform":[{"filter":"datum.kind=='keyred'"}],"mark":{"type":"rule","color":"#f01010","strokeWidth":2.5,"strokeDash":[2,2]},"encoding":{"x2":{"field":"t2"}}},
{"data":{"name":"levels"},"transform":[{"filter":"datum.kind=='keydash'"}],"mark":{"type":"rule","color":"#1414c8","strokeWidth":2.5,"strokeDash":[4,3]},"encoding":{"x2":{"field":"t2"}}},
{"data":{"name":"texts"},"transform":[{"filter":"datum.kind=='teal'"}],"mark":{"type":"text","align":"left","fontSize":11,"color":"#2f7f80"},"encoding":{"text":{"field":"label"}}},
{"data":{"name":"texts"},"transform":[{"filter":"datum.kind=='dark'"}],"mark":{"type":"text","align":"left","fontSize":11,"color":"#444"},"encoding":{"text":{"field":"label"}}},
{"data":{"name":"texts"},"transform":[{"filter":"datum.kind=='blue'"}],"mark":{"type":"text","align":"left","fontSize":11,"color":"#2222dd"},"encoding":{"text":{"field":"label"}}},
{"data":{"name":"texts"},"transform":[{"filter":"datum.kind=='red'"}],"mark":{"type":"text","align":"left","fontSize":11,"color":"#e02020"},"encoding":{"text":{"field":"label"}}},
{"data":{"name":"righttexts"},"mark":{"type":"text","align":"right","fontSize":11,"color":"#444"},"encoding":{"text":{"field":"label"}}},
{"data":{"name":"centertexts"},"transform":[{"filter":"datum.kind=='button'"}],"mark":{"type":"text","align":"center","fontSize":11,"color":"#333"},"encoding":{"text":{"field":"label"}}},
{"data":{"name":"centertexts"},"transform":[{"filter":"datum.kind=='close'"}],"mark":{"type":"text","align":"center","fontSize":11,"fontWeight":"bold","color":"#999"},"encoding":{"text":{"field":"label"}}},
{"data":{"name":"centertexts"},"transform":[{"filter":"datum.kind=='tool'"}],"mark":{"type":"text","align":"center","fontSize":11,"fontWeight":"bold","color":"#777"},"encoding":{"text":{"field":"label"}}},
{"data":{"name":"centertexts"},"transform":[{"filter":"datum.kind=='time'"}],"mark":{"type":"text","align":"center","fontSize":11,"fontWeight":"bold","color":"#222"},"encoding":{"text":{"field":"label"}}}
]
}
